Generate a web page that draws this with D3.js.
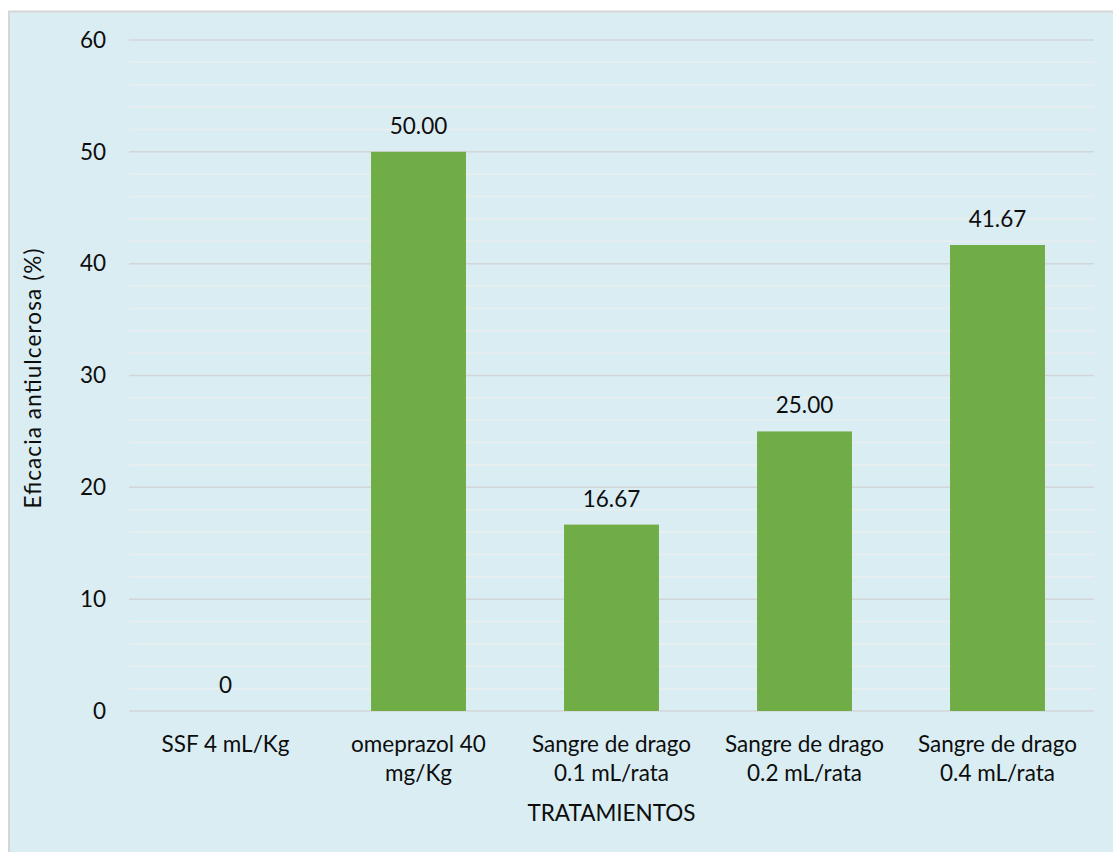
<!DOCTYPE html>
<html>
<head>
<meta charset="utf-8">
<script src="https://cdn.jsdelivr.net/npm/d3@7"></script>
<style>
  html, body { margin: 0; padding: 0; background: #ffffff; }
  svg { display: block; }
  text { font-family: Lato, "Open Sans", sans-serif; fill: #0d0d0d; }
</style>
</head>
<body>
<svg id="chart" width="1113" height="852"></svg>
<script>
// Treatments (each label split over two lines) and antiulcer efficacy (%)
const categories = [
  ["SSF 4 mL/Kg"],
  ["omeprazol 40", "mg/Kg"],
  ["Sangre de drago", "0.1 mL/rata"],
  ["Sangre de drago", "0.2 mL/rata"],
  ["Sangre de drago", "0.4 mL/rata"]
];
const values = [0, 50.00, 16.67, 25.00, 41.67];
const valueLabels = ["0", "50.00", "16.67", "25.00", "41.67"];
const yTicks = [0, 10, 20, 30, 40, 50, 60];
const yMinorTicks = [2, 4, 6, 8, 12, 14, 16, 18, 22, 24, 26, 28, 32, 34, 36, 38, 42, 44, 46, 48, 52, 54, 56, 58];

const svg = d3.select("#chart");
const W = 1113, H = 852;
const FS = "22.5px";

// panel background with a thin grey frame
svg.append("rect")
  .attr("x", 9).attr("y", 11.5)
  .attr("width", W - 8).attr("height", H)
  .attr("fill", "#daedf3")
  .attr("stroke", "#d6d6d6").attr("stroke-width", 2);

const margin = { left: 129, right: 19, top: 40, bottom: 141 };
const plotW = W - margin.left - margin.right;
const plotH = H - margin.top - margin.bottom;

const g = svg.append("g").attr("transform", `translate(${margin.left},${margin.top})`);

const x = d3.scaleBand()
  .domain(categories.map((d, i) => i))
  .range([0, plotW])
  .paddingInner(0.508)
  .paddingOuter(0.254);

const y = d3.scaleLinear().domain([0, 60]).range([plotH, 0]);

// minor gridlines
g.append("g").selectAll("line").data(yMinorTicks).join("line")
  .attr("x1", 0).attr("x2", plotW)
  .attr("y1", d => y(d)).attr("y2", d => y(d))
  .attr("stroke", "#eaeeef").attr("stroke-width", 1.5);

// major gridlines
g.append("g").selectAll("line").data(yTicks).join("line")
  .attr("x1", 0).attr("x2", plotW)
  .attr("y1", d => y(d)).attr("y2", d => y(d))
  .attr("stroke", "#d2d6d8").attr("stroke-width", 1.5);

// y axis labels
const yAxis = d3.axisLeft(y).tickValues(yTicks).tickSize(0).tickPadding(23);
const ya = g.append("g").call(yAxis);
ya.select(".domain").remove();
ya.selectAll("text")
  .style("font-family", "Lato, 'Open Sans', sans-serif")
  .style("font-size", FS).attr("fill", "#0d0d0d");

// bars
g.append("g").selectAll("rect").data(values).join("rect")
  .attr("x", (d, i) => x(i))
  .attr("width", x.bandwidth())
  .attr("y", d => y(d))
  .attr("height", d => plotH - y(d))
  .attr("fill", "#70ad47");

// value labels
g.append("g").selectAll("text").data(values).join("text")
  .attr("x", (d, i) => x(i) + x.bandwidth() / 2)
  .attr("y", d => y(d) - 18)
  .attr("text-anchor", "middle")
  .style("font-size", FS)
  .text((d, i) => valueLabels[i]);

// category labels
const cat = g.append("g").selectAll("text").data(categories).join("text")
  .attr("x", (d, i) => x(i) + x.bandwidth() / 2)
  .attr("y", plotH + 41)
  .attr("text-anchor", "middle")
  .style("font-size", FS);
cat.selectAll("tspan").data(d => d).join("tspan")
  .attr("x", function () { return d3.select(this.parentNode).attr("x"); })
  .attr("dy", (d, j) => j === 0 ? 0 : 29)
  .text(d => d);

// axis titles
svg.append("text")
  .attr("x", margin.left + plotW / 2)
  .attr("y", 821)
  .attr("text-anchor", "middle")
  .style("font-size", FS)
  .text("TRATAMIENTOS");

svg.append("text")
  .attr("transform", `translate(41,${margin.top + plotH / 2 + 3}) rotate(-90)`)
  .attr("text-anchor", "middle")
  .attr("textLength", 260)
  .attr("lengthAdjust", "spacing")
  .style("font-size", FS)
  .text("Eficacia antiulcerosa (%)");
</script>
</body>
</html>
